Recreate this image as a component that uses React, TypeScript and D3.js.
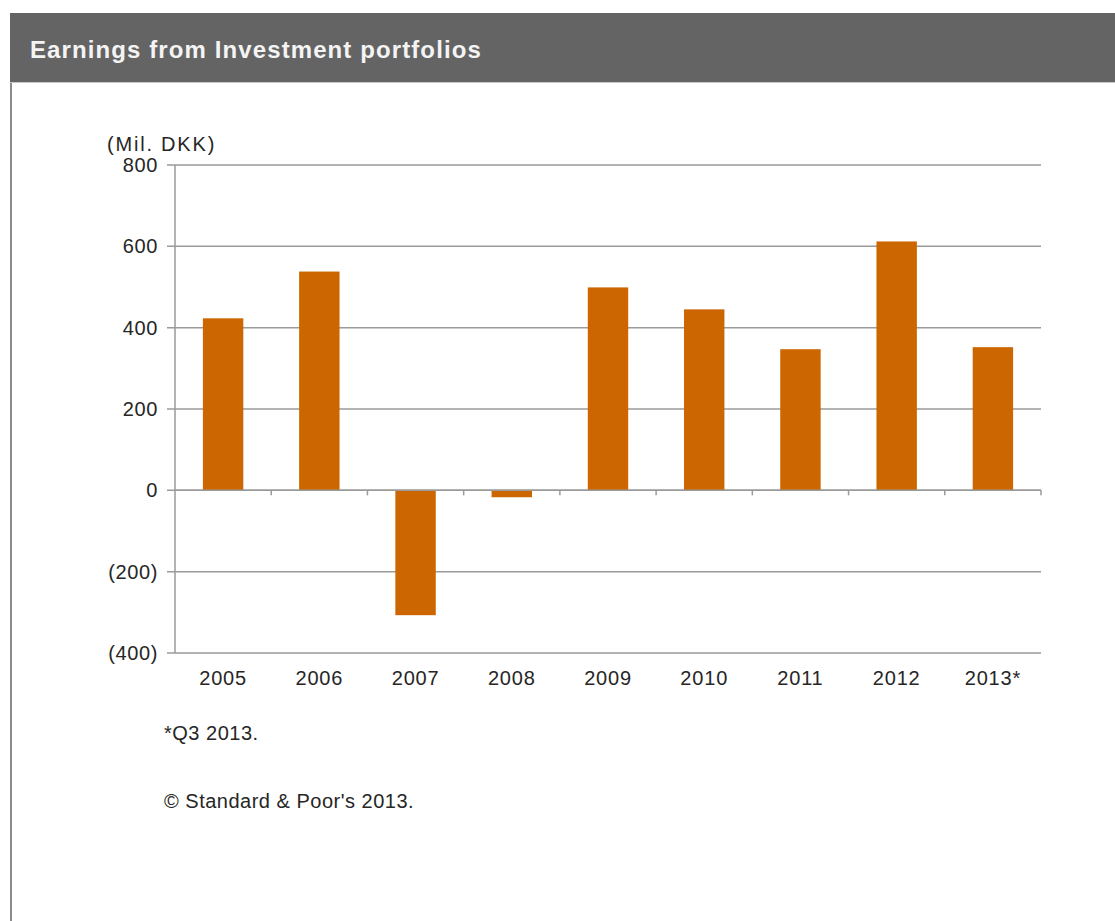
import React from "react";
import * as d3 from "d3";

const categories = ["2005", "2006", "2007", "2008", "2009", "2010", "2011", "2012", "2013*"];
const values = [423, 538, -307, -17, 499, 445, 347, 612, 352];
const yTicks = [800, 600, 400, 200, 0, -200, -400];
const title = "Earnings from Investment portfolios";
const unitLabel = "(Mil. DKK)";
const footnotes = ["*Q3 2013.", "© Standard & Poor's 2013."];

const W = 1115;
const H = 921;
const plotLeft = 175;
const plotRight = 1041;
const plotTop = 165;
const plotBottom = 653;

const fmt = (v: number) => (v < 0 ? `(${Math.abs(v)})` : `${v}`);

export default function App() {
  const x = d3.scaleBand<string>().domain(categories).range([plotLeft, plotRight]).paddingInner(0.58).paddingOuter(0.29);
  const xb = d3.scaleBand<string>().domain(categories).range([plotLeft, plotRight]).padding(0);
  const y = d3.scaleLinear().domain([-400, 800]).range([plotBottom, plotTop]);
  const font = "Arial, 'Liberation Sans', sans-serif";
  const grid = "#9a9a9a";
  const txt = "#262626";
  const y0 = y(0);

  return (
    <svg width={W} height={H} style={{ position: "absolute", left: 0, top: 0, background: "#fff" }} fontFamily={font}>
      <rect x={10} y={13} width={W - 10} height={69} fill="#646464" />
      <line x1={10} x2={W} y1={82.5} y2={82.5} stroke="#c8c8c8" strokeWidth={1} />
      <line x1={11} x2={11} y1={83} y2={H} stroke="#8a8a8a" strokeWidth={2} />
      <text x={30} y={58} fill="#f4f4f4" fontSize={24} fontWeight="bold" letterSpacing={1.1}>{title}</text>

      {/* gridlines */}
      {yTicks.map((t) => (
        <g key={t}>
          <line x1={plotLeft - 8} x2={plotRight} y1={y(t)} y2={y(t)} stroke={grid} strokeWidth={1.5} />
          <text x={158} y={y(t)} dy="0.35em" textAnchor="end" fontSize={20} fill={txt} letterSpacing={0.6}>{fmt(t)}</text>
        </g>
      ))}
      <text x={107} y={151} fontSize={20} fill={txt} letterSpacing={1.8}>{unitLabel}</text>

      {/* bars */}
      {categories.map((c, i) => {
        const v = values[i];
        return (
          <rect key={c} x={x(c)} width={x.bandwidth()} y={Math.min(y(v), y0)} height={Math.abs(y(v) - y0)} fill="#cc6600" />
        );
      })}

      {/* y axis */}
      <line x1={plotLeft} x2={plotLeft} y1={plotTop} y2={plotBottom} stroke={grid} strokeWidth={1.5} />
      {/* x axis ticks at zero */}
      <line x1={plotLeft} x2={plotRight} y1={y0} y2={y0} stroke={grid} strokeWidth={1.5} />
      {categories.map((c) => (
        <line key={c} x1={(xb(c) as number) + xb.bandwidth()} x2={(xb(c) as number) + xb.bandwidth()} y1={y0} y2={y0 + 5} stroke={grid} strokeWidth={1.5} />
      ))}
      {categories.map((c) => (
        <text key={c} x={(xb(c) as number) + xb.bandwidth() / 2} y={685} textAnchor="middle" fontSize={20} fill={txt} letterSpacing={0.8}>{c}</text>
      ))}

      <text x={164} y={740} fontSize={20} fill={txt} letterSpacing={0.5}>{footnotes[0]}</text>
      <text x={164} y={808} fontSize={20} fill={txt} letterSpacing={0.5}>{footnotes[1]}</text>
    </svg>
  );
}
